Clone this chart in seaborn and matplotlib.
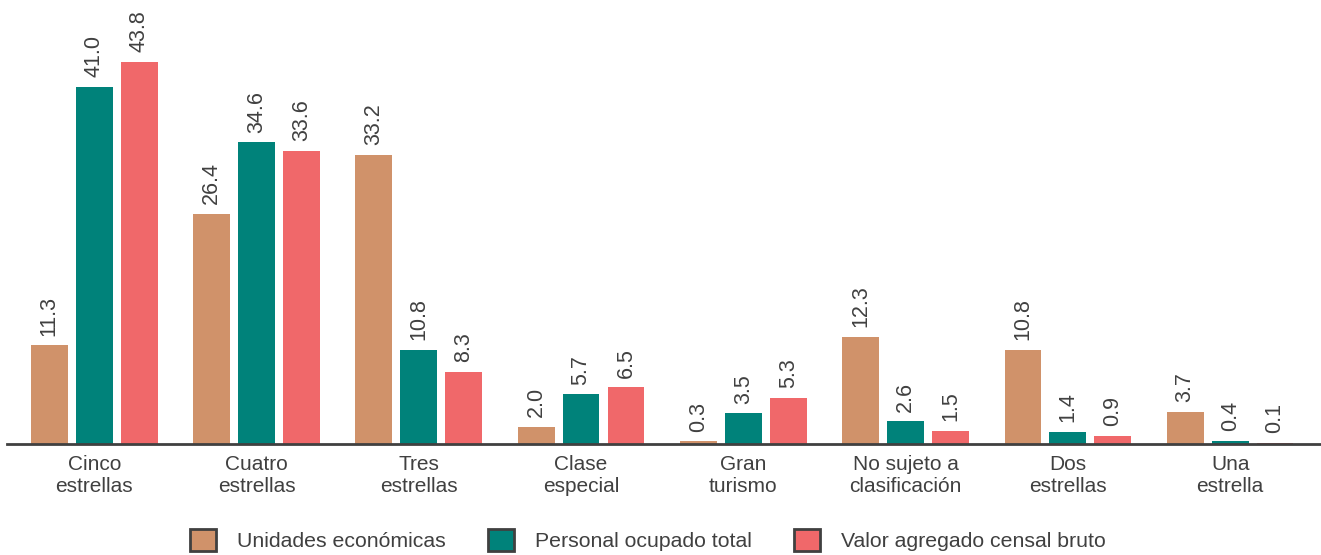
import matplotlib
matplotlib.use("Agg")
import matplotlib.pyplot as plt
import pandas as pd
import seaborn as sns

# Datos del gráfico (porcentajes por categoría de hotel)
categorias = ["Cinco\nestrellas", "Cuatro\nestrellas", "Tres\nestrellas", "Clase\nespecial",
              "Gran\nturismo", "No sujeto a\nclasificación", "Dos\nestrellas", "Una\nestrella"]
series = ["Unidades económicas", "Personal ocupado total", "Valor agregado censal bruto"]
unidades = [11.3, 26.4, 33.2, 2.0, 0.3, 12.3, 10.8, 3.7]
personal = [41.0, 34.6, 10.8, 5.7, 3.5, 2.6, 1.4, 0.4]
valor = [43.8, 33.6, 8.3, 6.5, 5.3, 1.5, 0.9, 0.1]
colores = ["#D0926A", "#00827A", "#F0686A"]

df = pd.DataFrame({
    "categoria": categorias * 3,
    "serie": [series[0]] * 8 + [series[1]] * 8 + [series[2]] * 8,
    "valor": unidades + personal + valor,
})

sns.set_theme(style="white")
plt.rcParams["font.family"] = ["Liberation Sans", "DejaVu Sans"]
gris = "#404040"

fig = plt.figure(figsize=(13.21, 5.55), dpi=100)
ax = fig.add_axes([0.005, 0.2, 0.995, 0.798])

sns.barplot(data=df, x="categoria", y="valor", hue="serie", palette=colores,
            saturation=1, linewidth=0, width=0.83, gap=0.18, ax=ax, legend=True)

for cont in ax.containers:
    ax.bar_label(cont, fmt="%.1f", rotation=90, padding=7, fontsize=15.5, color=gris)

ax.set_xlim(-0.54, 7.56)
ax.set_ylim(0, 50.8)
ax.set_xlabel("")
ax.set_ylabel("")
ax.set_yticks([])
ax.tick_params(axis="x", labelsize=15, colors=gris, length=0, pad=8)
for s in ["top", "right", "left"]:
    ax.spines[s].set_visible(False)
ax.spines["bottom"].set_color(gris)
ax.spines["bottom"].set_linewidth(2)

handles, labels = ax.get_legend_handles_labels()
for h in handles:
    h.set_edgecolor(gris)
    h.set_linewidth(2)
ax.legend(handles, labels, loc="lower center", bbox_to_anchor=(0.488, -0.285), ncol=3,
          frameon=False, fontsize=15.3, handlelength=1.2, handleheight=1.2,
          columnspacing=2.0, handletextpad=1.0, labelcolor=gris)

fig.savefig("out.png", dpi=100)
